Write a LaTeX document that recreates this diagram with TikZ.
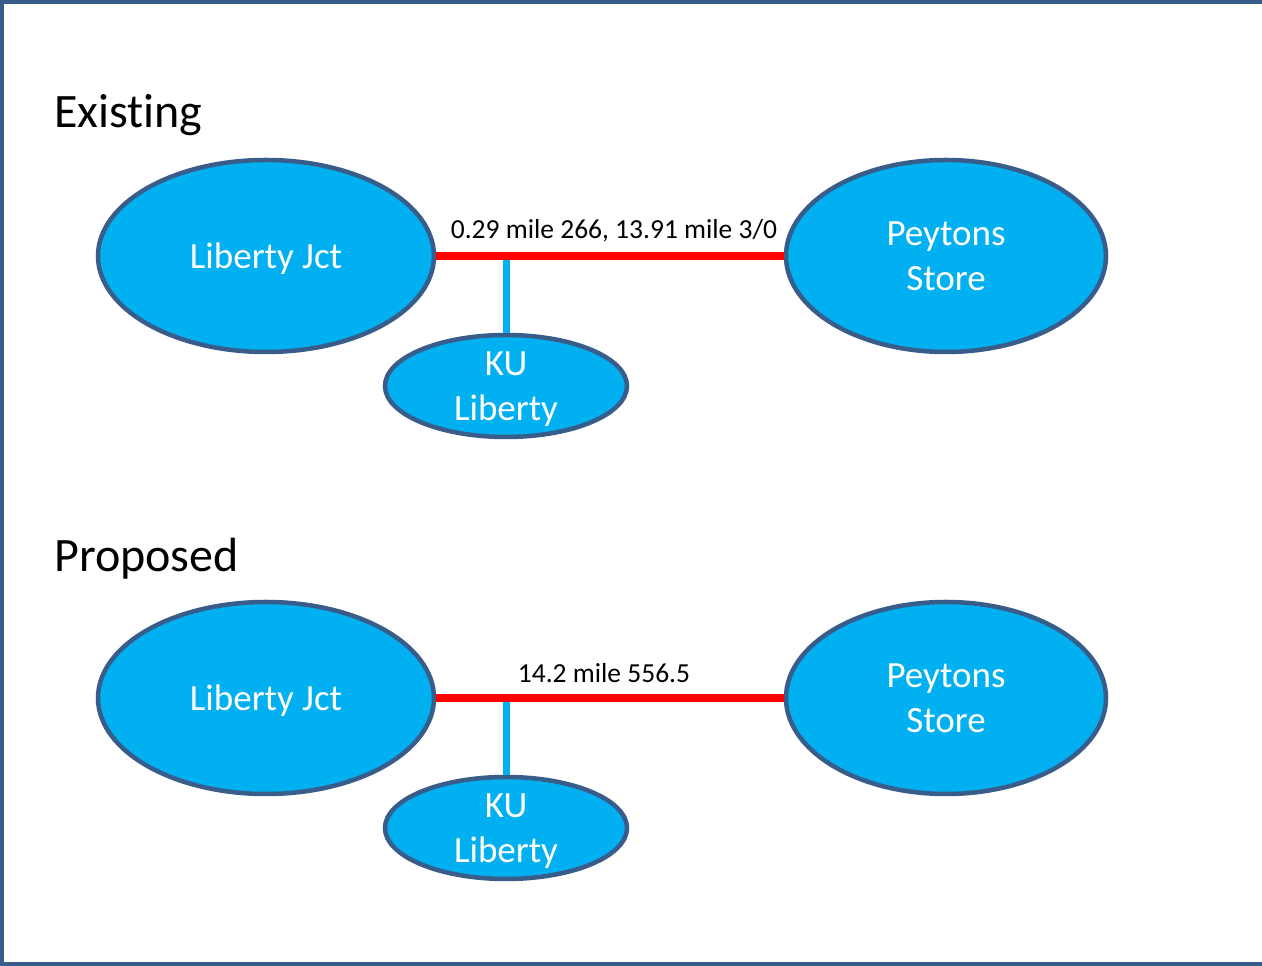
\documentclass[tikz,border=0pt]{standalone}
\usepackage{fontspec}
\setmainfont{Carlito}[Ligatures=NoCommon, Contextuals=NoAlternate, RawFeature={-liga;-clig;-calt;-dlig}]
\usetikzlibrary{shapes.geometric}
\definecolor{edgeblue}{HTML}{385D8A}
\definecolor{fillblue}{HTML}{00B0F0}
\tikzset{
  station/.style={ellipse, draw=edgeblue, fill=fillblue, line width=4.5pt, inner sep=0pt,
     text=white, align=center, text depth=0pt, font=\fontsize{37}{45}\selectfont},
  bigst/.style={station, minimum width=336pt, minimum height=192pt},
  peyst/.style={station, minimum width=320pt, minimum height=192pt},
  kust/.style={station, minimum width=242pt, minimum height=102pt},
  feeder/.style={draw=red, line width=8pt},
  tap/.style={draw=fillblue, line width=7pt},
  heading/.style={anchor=base west, inner sep=0pt, font=\fontsize{48}{58}\selectfont},
  linelabel/.style={anchor=base, inner sep=0pt, font=\fontsize{27.5}{33}\selectfont}
}
\begin{document}
\begin{tikzpicture}[x=1pt,y=1pt]
\useasboundingbox (0,0) rectangle (1262,966);
\fill[white] (0,0) rectangle (1262,966);
\draw[edgeblue, line width=4pt] (2,2) rectangle (1280,964);

% Existing
\node[heading] (h1) at (54,838) {Exist\kern0pt ing};
\node[bigst] (lj1) at (266,710) {Liberty Jct};
\node[peyst] (ps1) at (946,710) {Peytons\\Store};
\node[kust] (ku1) at (506,580) {KU\\Liberty};
\coordinate (j1) at (ku1.north |- lj1.east);
\draw[tap] (ku1.north) -- (j1);
\draw[feeder] (lj1.east) -- (ps1.west);
\node[linelabel] (l1) at (614,727) {0.29 mile 266, 13.91 mile 3/0};

% Proposed
\node[heading] (h2) at (54,394) {Proposed};
\node[bigst] (lj2) at (266,268) {Liberty Jct};
\node[peyst] (ps2) at (946,268) {Peytons\\Store};
\node[kust] (ku2) at (506,138) {KU\\Liberty};
\coordinate (j2) at (ku2.north |- lj2.east);
\draw[tap] (ku2.north) -- (j2);
\draw[feeder] (lj2.east) -- (ps2.west);
\node[linelabel] (l2) at (604,283) {14.2 mile 556.5};
\end{tikzpicture}
\end{document}
